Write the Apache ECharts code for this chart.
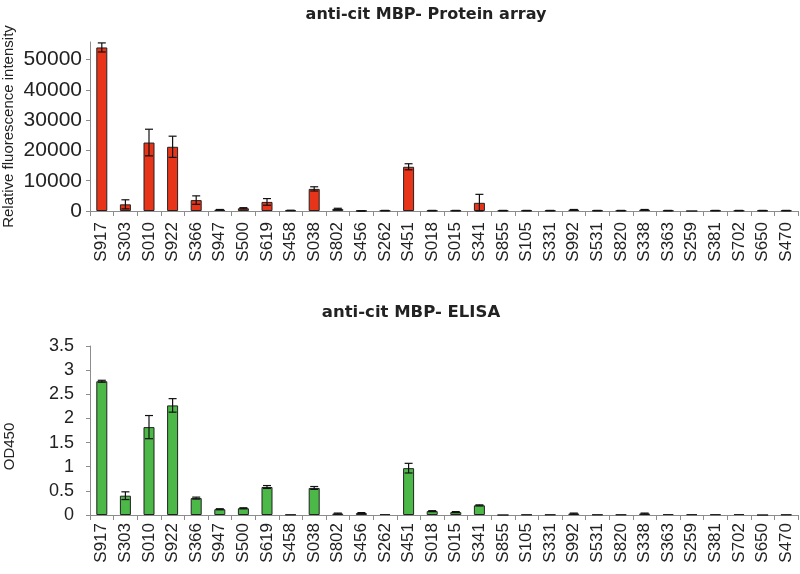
<!DOCTYPE html>
<html>
<head>
<meta charset="utf-8">
<script src="https://cdn.jsdelivr.net/npm/echarts@6/dist/echarts.min.js"></script>
<style>html,body{margin:0;padding:0;background:#fff}#c{width:800px;height:574px}</style>
</head>
<body>
<div id="c"></div>
<script>
const categories = ['S917','S303','S010','S922','S366','S947','S500','S619','S458','S038','S802','S456','S262','S451','S018','S015','S341','S855','S105','S331','S992','S531','S820','S338','S363','S259','S381','S702','S650','S470'];
const arrayMean = [54000, 2200, 22600, 21200, 3600, 400, 900, 3000, 200, 7300, 700, 50, 150, 14600, 150, 150, 2700, 150, 150, 150, 400, 150, 150, 400, 150, 0, 150, 150, 150, 150];
const arrayErr  = [1500, 1500, 4400, 3500, 1400, 100, 200, 1100, 50, 700, 200, 50, 50, 1000, 50, 50, 2800, 50, 50, 50, 100, 50, 50, 100, 50, 0, 50, 50, 50, 50];
const elisaMean = [2.77, 0.40, 1.82, 2.27, 0.35, 0.12, 0.14, 0.58, 0.01, 0.56, 0.03, 0.04, 0.02, 0.97, 0.08, 0.06, 0.20, 0, 0.01, 0.01, 0.03, 0.01, 0.01, 0.03, 0.02, 0.015, 0.015, 0.02, 0, 0.01];
const elisaErr  = [0.02, 0.08, 0.24, 0.14, 0.02, 0.01, 0.01, 0.03, 0, 0.03, 0.01, 0.01, 0, 0.10, 0.01, 0.01, 0.01, 0, 0, 0, 0.01, 0, 0, 0.01, 0, 0, 0, 0, 0, 0];
const arrayTicks = [0, 10000, 20000, 30000, 40000, 50000];
const elisaTicks = [0, 0.5, 1, 1.5, 2, 2.5, 3, 3.5];

const chart = echarts.init(document.getElementById('c'), null, {renderer: 'canvas'});
const axisGray = '#8c8c8c';
const textCol = '#222';
const ff = 'Liberation Sans, Arial, sans-serif';

function errItem(params, api) {
  const x = api.value(0), m = api.value(1), e = api.value(2);
  if (!e) return null;
  const t = api.coord([x, m + e]);
  const b = api.coord([x, Math.max(0, m - e)]);
  const cw = 4;
  const st = {stroke: '#111', lineWidth: 1.2};
  return {type: 'group', children: [
    {type: 'line', shape: {x1: t[0], y1: t[1], x2: b[0], y2: b[1]}, style: st},
    {type: 'line', shape: {x1: t[0] - cw, y1: t[1], x2: t[0] + cw, y2: t[1]}, style: st},
    {type: 'line', shape: {x1: b[0] - cw, y1: b[1], x2: b[0] + cw, y2: b[1]}, style: st}
  ]};
}

function xAxisCfg(gi, margin, fs) {
  return {
    type: 'category', gridIndex: gi, data: categories,
    axisLine: {lineStyle: {color: axisGray, width: 1}},
    axisTick: {show: true, length: 5, lineStyle: {color: axisGray}},
    axisLabel: {rotate: 90, fontSize: fs, color: textCol, margin: margin, interval: 0, fontFamily: ff}
  };
}

const option = {
  animation: false,
  backgroundColor: '#fff',
  title: [
    {text: 'anti-cit MBP- Protein array', left: 421, top: 2, textAlign: 'center',
     textStyle: {fontSize: 16, fontWeight: 'bold', color: textCol, fontFamily: 'DejaVu Sans, sans-serif'}},
    {text: 'anti-cit MBP- ELISA', left: 406, top: 299, textAlign: 'center',
     textStyle: {fontSize: 16.5, fontWeight: 'bold', color: textCol, fontFamily: 'DejaVu Sans, sans-serif'}}
  ],
  grid: [
    {left: 90, right: 2, top: 42, height: 169, containLabel: false, outerBoundsMode: 'none'},
    {left: 90, right: 2, top: 346, height: 169, containLabel: false, outerBoundsMode: 'none'}
  ],
  xAxis: [xAxisCfg(0, 11, 17), xAxisCfg(1, 8, 17)],
  yAxis: [
    {type: 'value', gridIndex: 0, min: arrayTicks[0], max: 55800, interval: 10000,
     name: 'Relative fluorescence intensity', nameLocation: 'middle', nameGap: 74, nameMoveOverlap: false,
     nameTextStyle: {fontSize: 15, color: textCol, fontFamily: ff},
     axisLine: {show: true, lineStyle: {color: axisGray}},
     axisTick: {show: true, length: 4, lineStyle: {color: axisGray}},
     splitLine: {show: false},
     axisLabel: {fontSize: 21, color: textCol, margin: 8, showMaxLabel: false, fontFamily: ff,
                 formatter: v => String(v)}},
    {type: 'value', gridIndex: 1, min: elisaTicks[0], max: elisaTicks[elisaTicks.length - 1], interval: 0.5,
     name: 'OD450', nameLocation: 'middle', nameGap: 73, nameMoveOverlap: false,
     nameTextStyle: {fontSize: 15, color: textCol, padding: [0, 32, 0, 0], fontFamily: ff},
     axisLine: {show: true, lineStyle: {color: axisGray}},
     axisTick: {show: true, length: 4, lineStyle: {color: axisGray}},
     splitLine: {show: false},
     axisLabel: {fontSize: 18, color: textCol, margin: 16, fontFamily: ff, formatter: v => String(v)}}
  ],
  series: [
    {type: 'bar', xAxisIndex: 0, yAxisIndex: 0, data: arrayMean, barWidth: 11,
     itemStyle: {color: '#e8351a', borderColor: '#222', borderWidth: 1}},
    {type: 'custom', xAxisIndex: 0, yAxisIndex: 0, renderItem: errItem, z: 5,
     data: arrayMean.map((v, i) => [i, v, arrayErr[i]]), encode: {x: 0, y: 1}},
    {type: 'bar', xAxisIndex: 1, yAxisIndex: 1, data: elisaMean, barWidth: 11,
     itemStyle: {color: '#4cb847', borderColor: '#222', borderWidth: 1}},
    {type: 'custom', xAxisIndex: 1, yAxisIndex: 1, renderItem: errItem, z: 5,
     data: elisaMean.map((v, i) => [i, v, elisaErr[i]]), encode: {x: 0, y: 1}}
  ]
};
chart.setOption(option);
</script>
</body>
</html>
